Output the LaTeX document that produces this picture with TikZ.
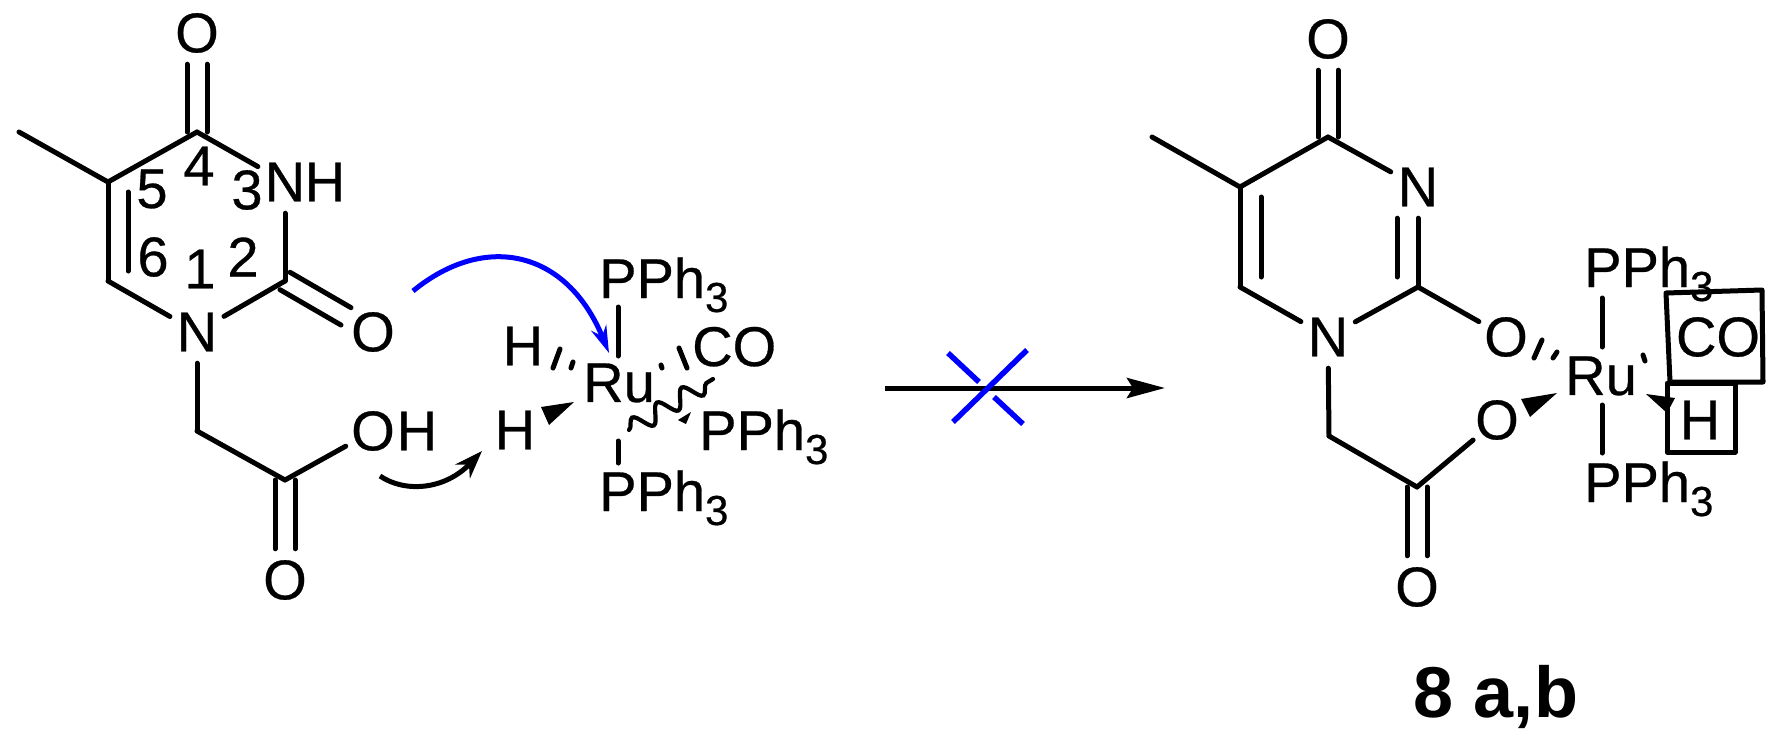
\documentclass[tikz,border=0pt]{standalone}
\usepackage{fontspec}
\setmainfont{Liberation Sans}
\newfontfamily\heavyface[FakeBold=0.5]{Liberation Sans}
\usetikzlibrary{arrows.meta,decorations.pathmorphing}

\newcommand{\atomfont}{\heavyface\fontsize{56}{60}\selectfont}
\newcommand{\pphthree}{PPh\raisebox{-14pt}{\fontsize{42}{42}\selectfont 3}}

\tikzset{
    atom/.style={circle,inner sep=0pt,minimum size=62pt,font=\atomfont},
    txt/.style={inner sep=0pt,font=\atomfont},
    ligand/.style={inner sep=0pt,anchor=base west,font=\atomfont},
    bond/.style={line width=5pt,line cap=round},
    hash/.style={line width=5pt,line cap=round},
    dblleft/.style={transform canvas={xshift=-10pt}},
    dblright/.style={transform canvas={xshift=10pt}},
    mech/.style={line width=5pt},
}

\begin{document}
\begin{tikzpicture}[x=1pt,y=-1pt]

    \useasboundingbox (0,0) rectangle (1783,742);

    % Left molecule: ring atoms
    \coordinate (Me) at (19,132);
    \coordinate (C5) at (108,182);
    \coordinate (C6) at (108,281);
    \coordinate (C4) at (197,132);
    \coordinate (C2) at (285,281);
    \coordinate (C7) at (197,431);
    \coordinate (C8) at (285,480);
    \node[atom] (O4) at (197,33) {O};
    \node[atom] (N3) at (285,182) {N};
    \node[txt] (H3) at (325,182) {H};
    \node[atom] (N1) at (197,332) {N};
    \node[atom] (O2) at (373,332) {O};
    \node[atom] (O9) at (373,431) {O};
    \node[txt] (H9) at (417,431) {H};
    \node[atom] (O8) at (285,580) {O};

    % Position numbers inside the ring
    \node[txt] (num1) at (200,269) {1};
    \node[txt] (num2) at (243,257) {2};
    \node[txt] (num3) at (247,190) {3};
    \node[txt] (num4) at (199,166) {4};
    \node[txt] (num5) at (152,189) {5};
    \node[txt] (num6) at (153,257) {6};

    % Single bonds
    \draw[bond] (Me) -- (C5);
    \draw[bond] (C5) -- (C4);
    \draw[bond] (C4) -- (N3);
    \draw[bond] (N3) -- (C2);
    \draw[bond] (C2) -- (N1);
    \draw[bond] (N1) -- (C6);
    \draw[bond] (C6) -- (C5);
    \draw[bond] (N1) -- (C7);
    \draw[bond] (C7) -- (C8);
    \draw[bond] (C8) -- (O9);

    % Double bonds
    \draw[bond,dblleft] (O4) -- (C4);
    \draw[bond,dblright] (O4) -- (C4);
    \draw[bond,dblleft] (C8) -- (O8);
    \draw[bond,dblright] (C8) -- (O8);
    \draw[bond,transform canvas={xshift=5pt,yshift=8.7pt}] (C2) -- (O2);
    \draw[bond,transform canvas={xshift=-5pt,yshift=-8.7pt}] (C2) -- (O2);
    \draw[bond,transform canvas={xshift=20pt},shorten <=10pt,shorten >=10pt] (C5) -- (C6);

    % Ruthenium complex
    \node[txt] (RuA) at (619,383) {Ru};
    \node[txt] (HaA) at (523,346) {H};
    \node[txt] (HbA) at (515,430) {H};
    \node[ligand] (COA) at (692,366) {CO};
    \node[ligand] (PtopA) at (599,298) {\pphthree};
    \node[ligand] (PbotA) at (599,511) {\pphthree};
    \node[ligand] (PsideA) at (699,450) {\pphthree};

    \coordinate (RuAup) at (618,356);
    \coordinate (PtopAend) at (618,307);
    \coordinate (RuAdown) at (618,441);
    \coordinate (PbotAend) at (618,463);
    \draw[bond] (PtopAend) -- (RuAup);
    \draw[bond] (RuAdown) -- (PbotAend);

    % Hashed and wedged bonds
    \draw[hash] (560,349) -- (553,368);
    \draw[hash] (573,362) -- (571,368);
    \draw[hash] (679,348) -- (687,368);
    \draw[hash] (661,365) -- (662,368);
    \fill (574,402) -- (541,407) -- (549,425) -- cycle;
    \fill (691,412) -- (678,420) -- (686,424) -- cycle;

    % Wavy line over the complex
    \coordinate (WavyA) at (629,430);
    \coordinate (WavyB) at (713,379);
    \draw[line width=4.2pt,line cap=round,decorate,decoration={snake,segment length=29pt,amplitude=9pt}] (WavyA) -- (WavyB);

    % Curved mechanism arrows
    \coordinate (BlueA) at (413,291);
    \coordinate (BlueB) at (609,353);
    \draw[mech,blue,-{Stealth[length=27pt,width=16pt]}] (BlueA) .. controls (485,232) and (567,250) .. (BlueB);
    \coordinate (BlackA) at (380,476);
    \coordinate (BlackB) at (482,451);
    \draw[mech,-{Stealth[length=28pt,width=20pt]}] (BlackA) .. controls (405,493) and (445,490) .. (BlackB);

    % Reaction arrow with blue cross
    \coordinate (ArrA) at (885,388);
    \coordinate (ArrB) at (1165,388);
    \draw[line width=5pt,-{Stealth[length=38pt,width=20pt,inset=6pt]}] (ArrA) -- (ArrB);
    \coordinate (CrossA) at (1027,350);
    \coordinate (CrossB) at (953,422);
    \coordinate (CrossC) at (948,353);
    \coordinate (CrossD) at (979,382);
    \coordinate (CrossE) at (994,397);
    \coordinate (CrossF) at (1023,424);
    \draw[mech,blue,line width=5.5pt] (CrossA) -- (CrossB);
    \draw[mech,blue,line width=5.5pt] (CrossC) -- (CrossD);
    \draw[mech,blue,line width=5.5pt] (CrossE) -- (CrossF);

    % Right molecule: ring atoms
    \coordinate (Meb) at (1152,137);
    \coordinate (C5b) at (1240,187);
    \coordinate (C6b) at (1240,287);
    \coordinate (C4b) at (1328,137);
    \coordinate (C2b) at (1418,287);
    \coordinate (C7b) at (1329,436);
    \coordinate (C8b) at (1417,487);
    \node[atom] (O4b) at (1328,39) {O};
    \node[atom] (N3b) at (1418,187) {N};
    \node[atom] (N1b) at (1328,337) {N};
    \node[atom] (O2b) at (1506,337) {O};
    \node[atom] (O9b) at (1497,420) {O};
    \node[atom] (O8b) at (1417,587) {O};

    \draw[bond] (Meb) -- (C5b);
    \draw[bond] (C5b) -- (C4b);
    \draw[bond] (C4b) -- (N3b);
    \draw[bond] (N3b) -- (C2b);
    \draw[bond] (C2b) -- (N1b);
    \draw[bond] (N1b) -- (C6b);
    \draw[bond] (C6b) -- (C5b);
    \draw[bond] (N1b) -- (C7b);
    \draw[bond] (C7b) -- (C8b);
    \draw[bond] (C8b) -- (O9b);
    \draw[bond] (C2b) -- (O2b);

    \draw[bond,dblleft] (O4b) -- (C4b);
    \draw[bond,dblright] (O4b) -- (C4b);
    \draw[bond,dblleft] (C8b) -- (O8b);
    \draw[bond,dblright] (C8b) -- (O8b);
    \draw[bond,transform canvas={xshift=21pt},shorten <=10pt,shorten >=10pt] (C5b) -- (C6b);
    \draw[bond,transform canvas={xshift=-21pt},shorten >=10pt] (N3b) -- (C2b);

    % Product complex
    \node[txt] (RuB) at (1601,376) {Ru};
    \node[ligand] (PtopB) at (1584,287) {\pphthree};
    \node[ligand] (PbotB) at (1584,502) {\pphthree};
    \node[txt] (COB) at (1718,337) {CO};
    \node[txt] (HB) at (1700,420) {H};

    \coordinate (RuBup) at (1602,347);
    \coordinate (PtopBend) at (1602,298);
    \coordinate (RuBdown) at (1602,405);
    \coordinate (PbotBend) at (1602,453);
    \draw[bond] (PtopBend) -- (RuBup);
    \draw[bond] (RuBdown) -- (PbotBend);

    \draw[hash] (1542,340) -- (1534,358);
    \draw[hash] (1557,352) -- (1553,358);
    \draw[hash] (1643,355) -- (1645,361);
    \fill (1557,393) -- (1521,399) -- (1530,417) -- cycle;
    \fill (1646,394) -- (1675,398) -- (1667,413) -- cycle;

    % Boxes drawn round CO and H
    \draw[bond,line join=round] (1666,293) -- (1762,290) -- (1763,382) -- (1670,382) -- cycle;
    \draw[bond,line join=round] (1667,383) -- (1735,383) -- (1735,452) -- (1667,452) -- cycle;

    % Compound label
    \node[inner sep=0pt,anchor=base,font=\fontsize{72}{76}\selectfont\bfseries] (label) at (1496,717) {8 a,b};

\end{tikzpicture}
\end{document}
